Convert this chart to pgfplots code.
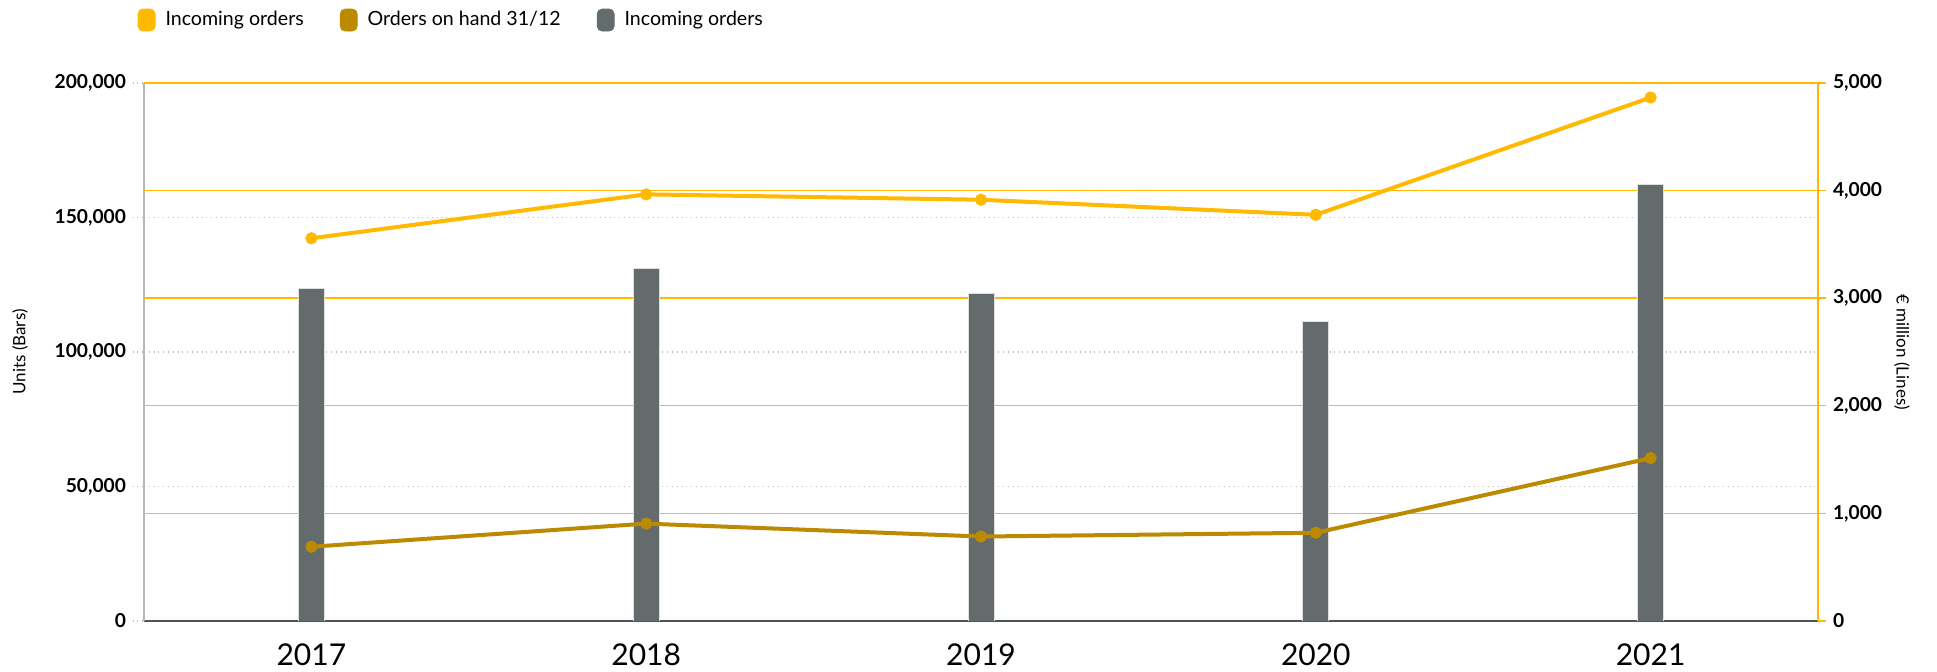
\documentclass[border=0pt]{standalone}
\usepackage{pgfplots}
\pgfplotsset{compat=1.18}
\usepackage{fontspec}
\setmainfont{Lato}
\definecolor{ylw}{HTML}{FFB900}
\definecolor{gold}{HTML}{BC8A00}
\definecolor{bargray}{HTML}{646B6D}
\definecolor{gridgray}{HTML}{BDBDBD}
\definecolor{leftline}{HTML}{B4B8B9}
\definecolor{axisdark}{HTML}{4F5658}

\pgfplotsset{
  base/.style={
    width=837pt, height=269pt, scale only axis,
    xmin=-0.5, xmax=4.5, ymin=0,
    /pgf/number format/assume math mode=true,
    /pgf/number format/fixed,
    /pgf/number format/1000 sep={,},
    scaled y ticks=false,
    tick align=outside,
    yticklabel style={font=\fontsize{9.6}{11}\selectfont\bfseries, text=black},
  }
}

\begin{document}
\begin{tikzpicture}
\path[use as bounding box] (-72pt,-25.5pt) rectangle (896.5pt,310.5pt);
% bars, left axis
\begin{axis}[base, ymax=200000,
  axis x line*=bottom, axis y line*=left,
  xtick={0,1,2,3,4}, xticklabels={2017,2018,2019,2020,2021},
  xticklabel style={font=\fontsize{15}{18}\selectfont, text=black, yshift=-2.5pt},
  xtick style={draw=none},
  ytick={0,50000,100000,150000,200000},
  ymajorgrids, major grid style={gridgray, dotted, line width=0.7pt},
  ytick style={gridgray, dotted, line width=0.7pt}, major tick length=5.5pt,
  extra y ticks={40000,80000,120000,160000,200000}, extra y tick labels={},
  extra y tick style={grid=major, major grid style={ylw, solid, line width=0.7pt}, ytick style={draw=none}},
  x axis line style={-, axisdark, line width=1.4pt},
  y axis line style={-, leftline, line width=1.4pt},
  ylabel={Units (Bars)},
  every axis y label/.style={at={(axis description cs:-0.074,0.5)}, rotate=90, anchor=center, font=\fontsize{8.5}{10}\selectfont},
]
\addplot[ybar, bar width=13pt, fill=bargray, draw=gray!25, line width=0.4pt]
  coordinates {(0,123500) (1,131000) (2,121600) (3,111300) (4,162300)};
\end{axis}
% lines, right axis
\begin{axis}[base, ymax=5000,
  axis x line=none, axis y line*=right,
  ytick={0,1000,2000,3000,4000,5000},
  ytick style={ylw, line width=0.7pt}, major tick length=4pt,
  y axis line style={-, ylw, line width=1.4pt},
  ylabel={€ million (Lines)},
  every axis y label/.style={at={(axis description cs:1.0502,0.5)}, rotate=-90, anchor=center, font=\fontsize{8.5}{10}\selectfont},
  legend style={at={(axis description cs:-0.004,1.117)}, anchor=west, draw=none, fill=none, inner sep=0pt,
    font=\fontsize{9.8}{11}\selectfont, /tikz/every even column/.append style={column sep=16pt}},
  legend columns=3, legend cell align=left,
]
\addplot[ylw, line width=2pt, mark=*, mark size=2pt, forget plot]
  coordinates {(0,3557) (1,3965) (2,3915) (3,3775) (4,4865)};
\addplot[gold, line width=2pt, mark=*, mark size=2pt, forget plot]
  coordinates {(0,690) (1,905) (2,785) (3,820) (4,1514)};
\addlegendimage{legend image code/.code={\fill[ylw, rounded corners=2.5pt] (0pt,-5.5pt) rectangle (8.5pt,5.5pt); \path (11.5pt,0pt);}}
\addlegendentry{Incoming orders}
\addlegendimage{legend image code/.code={\fill[gold, rounded corners=2.5pt] (0pt,-5.5pt) rectangle (8.5pt,5.5pt); \path (11.5pt,0pt);}}
\addlegendentry{Orders on hand 31/12}
\addlegendimage{legend image code/.code={\fill[bargray, rounded corners=2.5pt] (0pt,-5.5pt) rectangle (8.5pt,5.5pt); \path (11.5pt,0pt);}}
\addlegendentry{Incoming orders}
\end{axis}
\end{tikzpicture}
\end{document}
